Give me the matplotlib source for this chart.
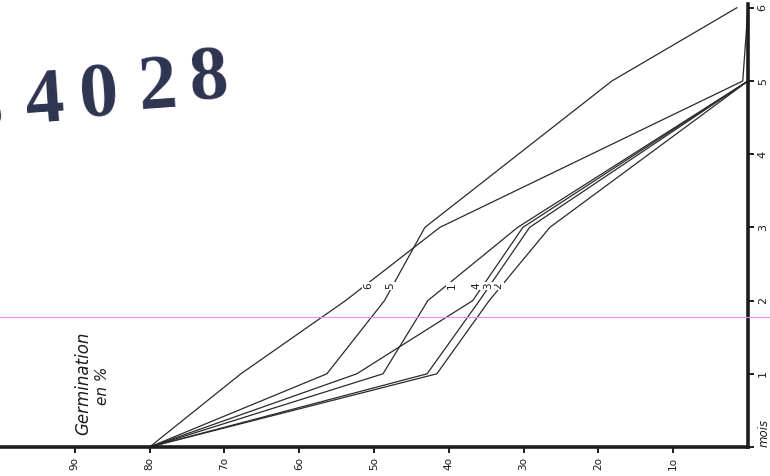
# -*- coding: utf-8 -*-
"""
Germination en % vs mois (scanned chart, rotated) - recreation
"""

# %% libraries
import numpy as np
import matplotlib
matplotlib.use('Agg')
import matplotlib.pyplot as plt
from matplotlib.lines import Line2D


# %% data
# ----------------------------

months = [0, 1, 2, 3, 5]
months_long = [0, 1, 2, 3, 5, 6]

germ_1 = [80, 48.8, 42.8, 30.8, 0]
germ_2 = [80, 41.6, 34.6, 26.5, 0]
germ_3 = [80, 42.9, 35.9, 29.2, 0]
germ_4 = [80, 52.3, 36.8, 30.1, 0]
germ_5 = [80, 56.3, 48.6, 43.2, 18.2, 1.5]
germ_6 = [80, 67.8, 53.8, 41.2, 0.7, 0]

# where the curve numbers are written (in %)
label_names = ['1', '2', '3', '4', '5', '6']
label_pct = [39.6, 33.4, 34.8, 36.3, 47.9, 50.8]

pct_ticks = [90, 80, 70, 60, 50, 40, 30, 20, 10]
pct_labels = ['9o', '8o', '7o', '6o', '5o', '4o', '3o', '2o', '1o']
month_ticks = [0, 1, 2, 3, 4, 5, 6]
month_labels = ['mois', '1', '2', '3', '4', '5', '6']

stamp = ['3', '4', '0', '2', '8']


# %% figure
# ---------

W, H = 770, 476
fig = plt.figure(figsize=(W / 100, H / 100), dpi=100)
fig.patch.set_facecolor('white')

ax = fig.add_axes([0, 29 / H, 748 / W, 443 / H])
ax.set_xlim(100, 0)
ax.set_ylim(0, 443 / 73.2)

ink = '#1c1c1c'
series = [(months, germ_1), (months, germ_2), (months, germ_3),
          (months, germ_4), (months_long, germ_5), (months_long, germ_6)]

for mo, g in series:
    ax.plot(g, mo, color='#2a2a2a', lw=0.9, solid_joinstyle='miter')

# curve numbers written across the lines
for name, xl in zip(label_names, label_pct):
    ax.text(xl, 2.2, name, rotation=90, fontsize=7.5, color=ink,
            ha='center', va='center',
            bbox=dict(facecolor='white', edgecolor='none', pad=0.6))

# axes like the hand drawing
for side in ['left', 'top']:
    ax.spines[side].set_visible(False)
for side in ['bottom', 'right']:
    ax.spines[side].set_linewidth(2.6)
    ax.spines[side].set_color(ink)

ax.set_xticks(pct_ticks)
ax.set_xticklabels(pct_labels, rotation=90, fontsize=7.5, color=ink)
ax.yaxis.tick_right()
ax.set_yticks(month_ticks)
ax.set_yticklabels(month_labels, rotation=90, fontsize=8, color=ink,
                   va='center')
ax.get_yticklabels()[0].set_fontsize(8.5)
ax.get_yticklabels()[0].set_style('italic')
ax.get_yticklabels()[0].set_va('bottom')
ax.tick_params(axis='both', direction='out', length=4, width=1.4,
               color=ink, pad=3)
ax.grid(False)

# axis title, written inside the plot
ax.text(88.9, 0.87, 'Germination', rotation=90, fontsize=12,
        style='italic', color=ink, ha='center', va='center')
ax.text(86.3, 0.83, 'en %', rotation=90, fontsize=11, style='italic',
        color=ink, ha='center', va='center')

# pink scan line
fig.add_artist(Line2D([0, 1], [1 - 317 / H] * 2, color='#e88ef0', lw=0.8))

# register stamp
stamp_xy = [(-16, 112), (45, 103), (99, 98), (158, 89), (209, 81)]
for d, (px, py) in zip(stamp, stamp_xy):
    fig.text(px / W, 1 - py / H, d, fontsize=56, family='Liberation Serif',
             weight='bold', color='#2e3450', ha='center', va='center',
             rotation=4)

plt.savefig('out.png', dpi=100, facecolor='white')
